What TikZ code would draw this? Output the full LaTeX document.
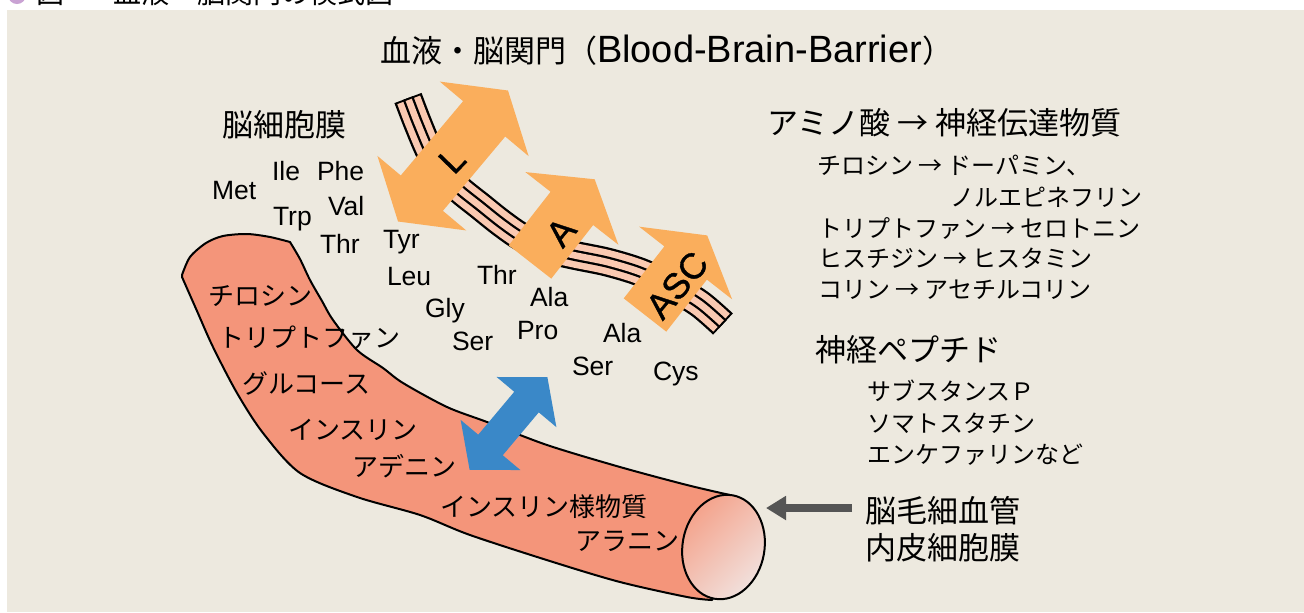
\documentclass[tikz,border=0pt]{standalone}
\usepackage{fontspec}
\setmainfont{Liberation Sans}
\newfontfamily\jp{Noto Sans CJK JP}
\newfontfamily\tagfont[FakeBold=1]{Liberation Sans}
\usetikzlibrary{arrows.meta}

\definecolor{bg}{HTML}{EDE9DF}
\definecolor{vesselfill}{HTML}{F4957A}
\definecolor{strippink}{HTML}{FAC9B1}
\definecolor{carrier}{HTML}{FAAE5C}
\definecolor{flowblue}{HTML}{3A88C8}
\definecolor{pointer}{HTML}{555555}
\definecolor{capA}{HTML}{F4A088}
\definecolor{capB}{HTML}{F1E3E0}
\definecolor{bullet}{HTML}{C9A2D3}

\begin{document}
\begin{tikzpicture}[x=0.5pt,y=-0.5pt,
  every node/.style={inner sep=0pt, outer sep=0pt},
  jpH/.style={font={\jp\fontsize{15.5pt}{18pt}\selectfont}, anchor=west},
  jpM/.style={font={\jp\fontsize{13pt}{15pt}\selectfont}, anchor=west},
  jpS/.style={font={\jp\fontsize{12pt}{14pt}\selectfont}, anchor=west},
  aa/.style={font={\fontsize{13.25pt}{15pt}\selectfont}, anchor=base west},
  tag/.style={font={\tagfont\fontsize{18pt}{20pt}\selectfont}},
  vessel/.style={fill=vesselfill, draw=black, line width=1pt, line join=round},
  pointerarrow/.style={draw=pointer, line width=4pt, -{Triangle[length=10pt,width=11.5pt]}},
]
\useasboundingbox (0,0) rectangle (1304,612);
\fill[white] (0,0) rectangle (1304,612);
\fill[bg] (7,10) rectangle (1304,612);

% caption line above the panel, only its lower edge shows
\begin{scope}
  \clip (0,0) rectangle (1304,10);
  \fill[bullet] (17,-5) circle [radius=9];
  \node[font={\jp\fontsize{14pt}{16pt}\selectfont}, anchor=base west] (hdfig) at (36,3.5) {図};
  \node[font={\jp\fontsize{14pt}{16pt}\selectfont}, anchor=base west] (hdtitle) at (113,3.5) {血液・脳関門の模式図};
\end{scope}

% capillary
\filldraw[vessel]
  plot[smooth] coordinates {(182,275) (190,257) (206,243) (223,236) (247,234) (270,237) (290,242)}
  -- plot[smooth] coordinates {(290,242) (300,259) (310,280) (322,301) (333,320) (357,350) (383,368) (403,383) (447,407) (487,422) (547,445) (620,467) (687,485) (730,495)}
  -- (745,540)
  -- plot[smooth] coordinates {(712,600) (687,597) (620,582) (553,562) (470,535) (420,515) (357,497) (300,473) (263,433) (237,393) (213,347) (197,311) (182,277)}
  -- cycle;
\begin{scope}[rotate around={-10:(723.5,547)}]
  \filldraw[draw=black, line width=1pt, top color=capA, bottom color=capB, shading angle=45]
    (723.5,547) ellipse [x radius=41, y radius=52.5];
\end{scope}
\coordinate (tipE) at (766,508);

% brain cell membrane strip
\foreach \w/\c/\s in {14.5pt/black/0pt, 12.2pt/strippink/1pt, 5.6pt/black/0pt, 3.3pt/strippink/1pt}
  \draw[line width=\w, draw=\c, shorten <=\s, shorten >=\s]
    plot[smooth] coordinates {(408,98) (418,124) (430,152) (444,174) (460,190) (480,206) (500,222) (520,236) (545,248) (573,255) (607,262) (640,272) (672,287) (700,304) (723,324)};

% transporters
\begin{scope}[shift={(453,156)}, rotate=50]
  \fill[carrier] (-48.5,-27.5) -- (48.5,-27.5) -- (48.5,-58) -- (85.5,0) -- (48.5,58) -- (48.5,27.5)
    -- (-48.5,27.5) -- (-48.5,58) -- (-85.5,0) -- (-48.5,-58) -- cycle;
\end{scope}
\begin{scope}[shift={(530,262)}, rotate=52]
  \fill[carrier] (0,-27) -- (68,-27) -- (68,-59) -- (105,0) -- (68,59) -- (68,27) -- (0,27) -- cycle;
\end{scope}
\begin{scope}[shift={(645,315)}, rotate=52]
  \fill[carrier] (0,-27) -- (66,-27) -- (66,-59) -- (101,0) -- (66,59) -- (66,27) -- (0,27) -- cycle;
\end{scope}
\node[tag, rotate=46] (tagL) at (452,160) {L};
\node[tag, rotate=50] (tagA) at (561,232) {A};
\node[tag, rotate=50] (tagASC) at (677,285) {ASC};

% exchange across the endothelium
\begin{scope}[shift={(508.5,423.5)}, rotate=50]
  \fill[flowblue] (-28,-16) -- (28,-16) -- (28,-39) -- (60.5,0) -- (28,39) -- (28,16)
    -- (-28,16) -- (-28,39) -- (-60.5,0) -- (-28,-39) -- cycle;
\end{scope}

% title
\node[anchor=west] (title) at (380,50)
  {{\jp\fontsize{15.5pt}{18pt}\selectfont 血液・脳関門（}{\fontsize{19pt}{22pt}\selectfont Blood-Brain-Barrier}{\jp\fontsize{15.5pt}{18pt}\selectfont ）}};

\node[jpH] (brainmem) at (222,125) {脳細胞膜};

% amino acids
\node[aa] (met) at (212,199) {Met};
\node[aa] (ile) at (272,180) {Ile};
\node[aa] (phe) at (317,180) {Phe};
\node[aa] (trp) at (273,225) {Trp};
\node[aa] (val) at (328,215) {Val};
\node[aa] (thrA) at (320,253) {Thr};
\node[aa] (tyr) at (383,248) {Tyr};
\node[aa] (leu) at (387,285) {Leu};
\node[aa] (thrB) at (477,284) {Thr};
\node[aa] (gly) at (425,317) {Gly};
\node[aa] (alaA) at (530,306) {Ala};
\node[aa] (serA) at (452,350) {Ser};
\node[aa] (pro) at (517,339) {Pro};
\node[aa] (alaB) at (603,342) {Ala};
\node[aa] (serB) at (572,375) {Ser};
\node[aa] (cys) at (653,380) {Cys};

% blood-side substances
\node[jpM] (v1) at (208,296) {チロシン};
\node[jpM] (v2) at (218,338) {トリプトファン};
\node[jpM] (v3) at (242,383) {グルコース};
\node[jpM] (v4) at (288,430) {インスリン};
\node[jpM] (v5) at (352,466) {アデニン};
\node[jpM] (v6) at (440,507) {インスリン様物質};
\node[jpM] (v7) at (575,541) {アラニン};

% transmitter notes
\node[jpH] (hdA) at (767,123) {アミノ酸 → 神経伝達物質};
\node[jpS] (n1) at (817,165) {チロシン → ドーパミン、};
\node[jpS] (n1b) at (950,197) {ノルエピネフリン};
\node[jpS] (n2) at (818,228) {トリプトファン → セロトニン};
\node[jpS] (n3) at (818,258) {ヒスチジン → ヒスタミン};
\node[jpS] (n4) at (818,290) {コリン → アセチルコリン};

\node[jpH] (hdB) at (815,350) {神経ペプチド};
\node[jpS] (p1) at (867,391) {サブスタンスＰ};
\node[jpS] (p2) at (867,423) {ソマトスタチン};
\node[jpS] (p3) at (867,455) {エンケファリンなど};

\node[jpH] (capl1) at (865,511) {脳毛細血管};
\node[jpH] (capl2) at (865,548) {内皮細胞膜};
\draw[pointerarrow, shorten <=6.5pt] (tipE -| capl1.west) -- (tipE);
\end{tikzpicture}
\end{document}
